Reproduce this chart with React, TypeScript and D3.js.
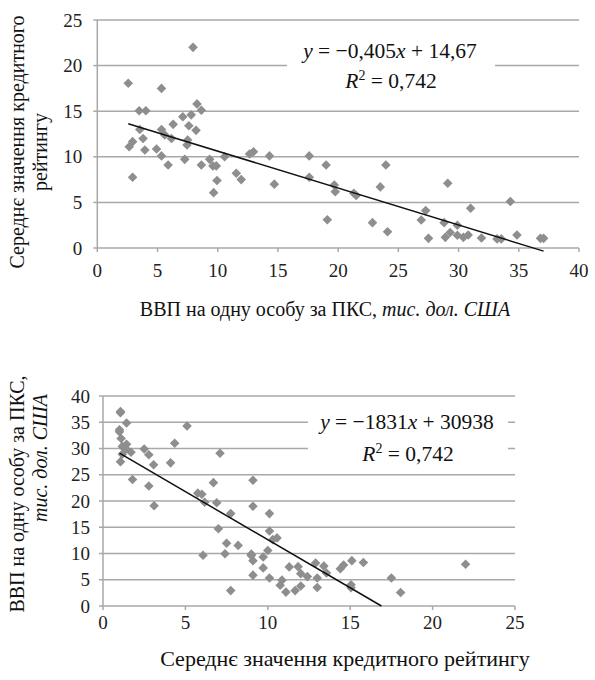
import React from "react";
import * as d3 from "d3";

// GDP per capita (PPP), thousand USD — one value per country
const gdp = [
  7.95, 2.57, 5.33, 3.48, 4.03, 8.28, 8.64, 7.1, 7.8, 7.6,
  8.2, 6.3, 3.53, 5.33, 5.6, 3.8, 6.16, 7.5, 7.45, 2.93,
  2.65, 3.95, 4.92, 5.33, 5.88, 7.26, 8.64, 9.33, 9.6, 9.88,
  9.94, 9.66, 2.93, 10.57, 11.54, 11.95, 12.64, 12.97, 14.3, 14.7,
  17.6, 17.6, 19.0, 19.68, 19.76, 19.1, 21.3, 21.5, 23.96, 23.5,
  22.85, 24.1, 27.27, 26.9, 27.5, 28.8, 28.9, 29.3, 29.9, 29.1,
  29.9, 30.4, 30.8, 31.0, 31.9, 33.2, 33.55, 34.3, 34.85, 36.8,
  37.06,
];

// average credit rating — same countries, same order
const rating = [
  22.0, 18.06, 17.5, 15.05, 15.05, 15.8, 15.1, 14.4, 14.6, 13.4,
  12.9, 13.56, 13.0, 13.0, 12.4, 12.0, 12.0, 11.84, 11.3, 11.66,
  11.1, 10.75, 10.86, 10.1, 9.1, 9.72, 9.1, 9.72, 9.0, 9.0,
  7.4, 6.07, 7.75, 10.0, 8.2, 7.5, 10.3, 10.56, 10.1, 7.0,
  10.1, 7.75, 9.1, 6.9, 6.17, 3.1, 6.0, 5.75, 9.1, 6.7,
  2.78, 1.79, 4.1, 3.07, 1.06, 2.78, 1.17, 1.7, 1.4, 7.1,
  2.5, 1.17, 1.43, 4.35, 1.1, 1.0, 1.0, 5.1, 1.43, 1.06,
  1.06,
];

// linear trend lines (bottom one in thousand USD)
const trendTop = { slope: -0.405, intercept: 14.67 };
const trendBottom = { slope: -1.831, intercept: 30.938 };

const FONT = "'Liberation Serif', 'DejaVu Serif', serif";
const GRID = "#a8a8a8";
const MARK = "#8e8e8e";

type Pt = { x: number; y: number };

function Scatter(props: {
  pts: Pt[];
  xDomain: [number, number];
  yDomain: [number, number];
  xRange: [number, number];
  yRange: [number, number];
  xTickCount: number;
  yTickCount: number;
  trend: { slope: number; intercept: number };
  clampTrend: boolean;
  eq: React.ReactNode;
  box: { x: number; y: number; w: number; h: number };
  yLabelDx: number;
  xLabelY: number;
}) {
  const { pts, xDomain, yDomain, xRange, yRange, trend } = props;
  const x = d3.scaleLinear().domain(xDomain).range(xRange);
  const y = d3.scaleLinear().domain(yDomain).range(yRange);
  const xTicks = x.ticks(props.xTickCount);
  const yTicks = y.ticks(props.yTickCount);
  const left = xRange[0], right = xRange[1];
  const bottom = yRange[0];

  const xs = pts.map(p => p.x);
  const x0 = d3.min(xs) as number;
  let x1 = d3.max(xs) as number;
  if (props.clampTrend) x1 = Math.min(x1, (yDomain[0] - trend.intercept) / trend.slope);
  const line = d3.line<number>()
    .x(d => x(d))
    .y(d => y(trend.slope * d + trend.intercept));

  const diamond = d3.symbol(d3.symbolSquare, 46)() as string;

  return (
    <g fontFamily={FONT}>
      {yTicks.filter(t => t !== yDomain[0]).map(t => (
        <line key={"g" + t} x1={left} x2={right} y1={y(t)} y2={y(t)} stroke={GRID} strokeWidth={1.5} />
      ))}
      <rect x={props.box.x} y={props.box.y} width={props.box.w} height={props.box.h} fill="#fff" />
      {/* axes */}
      <line x1={left} x2={left} y1={y(yDomain[1])} y2={bottom} stroke={GRID} strokeWidth={1.5} />
      <line x1={left} x2={right} y1={bottom} y2={bottom} stroke={GRID} strokeWidth={1.5} />
      {yTicks.map(t => (
        <g key={"y" + t}>
          <line x1={left - 4} x2={left} y1={y(t)} y2={y(t)} stroke={GRID} strokeWidth={1.5} />
          <text x={left - props.yLabelDx} y={y(t)} dy="0.35em" textAnchor="end" fontSize={19} fill="#222">{t}</text>
        </g>
      ))}
      {xTicks.map(t => (
        <g key={"x" + t}>
          <line x1={x(t)} x2={x(t)} y1={bottom} y2={bottom + 4} stroke={GRID} strokeWidth={1.5} />
          <text x={x(t)} y={props.xLabelY} textAnchor="middle" fontSize={19} fill="#222">{t}</text>
        </g>
      ))}
      {pts.map((p, i) => (
        <path key={i} d={diamond} transform={`translate(${x(p.x)},${y(p.y)}) rotate(45)`} fill={MARK} />
      ))}
      <path d={line([x0, x1]) as string} fill="none" stroke="#111" strokeWidth={1.5} />
      {props.eq}
    </g>
  );
}

export default function App() {
  const topPts = gdp.map((g, i) => ({ x: g, y: rating[i] }));
  const bottomPts = gdp.map((g, i) => ({ x: rating[i], y: g }));

  return (
    <svg width={595} height={680} style={{ position: "absolute", left: 0, top: 0 }} fontFamily={FONT}>
      <rect width={595} height={680} fill="#fff" />
      <Scatter
        pts={topPts}
        xDomain={[0, 40]}
        yDomain={[0, 25]}
        xRange={[97.3, 579]}
        yRange={[248, 20]}
        xTickCount={8}
        yTickCount={5}
        trend={trendTop}
        clampTrend={false}
        box={{ x: 287, y: 36, w: 208, h: 64 }}
        yLabelDx={15}
        xLabelY={277}
        eq={
          <g fontSize={21.5} fill="#111" textAnchor="middle">
            <text x={390} y={58}>
              <tspan fontStyle="italic">y</tspan> = −0,405<tspan fontStyle="italic">x</tspan> + 14,67
            </text>
            <text x={391} y={88}>
              <tspan fontStyle="italic">R</tspan><tspan fontSize={14} dy={-8}>2</tspan><tspan dy={8}> = 0,742</tspan>
            </text>
          </g>
        }
      />
      <text transform="translate(24,142) rotate(-90)" textAnchor="middle" fontSize={20} fill="#111">
        Середнє значення кредитного
      </text>
      <text transform="translate(47,152) rotate(-90)" textAnchor="middle" fontSize={20} fill="#111">
        рейтингу
      </text>
      <text x={325} y={316} textAnchor="middle" fontSize={20} fill="#111">
        ВВП на одну особу за ПКС, <tspan fontStyle="italic">тис. дол. США</tspan>
      </text>

      <Scatter
        pts={bottomPts}
        xDomain={[0, 25]}
        yDomain={[0, 40]}
        xRange={[103, 515]}
        yRange={[606, 396]}
        xTickCount={5}
        yTickCount={8}
        trend={trendBottom}
        clampTrend={true}
        box={{ x: 308, y: 405, w: 200, h: 62 }}
        yLabelDx={13}
        xLabelY={629}
        eq={
          <g fontSize={21.5} fill="#111" textAnchor="middle">
            <text x={407} y={429}>
              <tspan fontStyle="italic">y</tspan> = −1831<tspan fontStyle="italic">x</tspan> + 30938
            </text>
            <text x={408} y={461}>
              <tspan fontStyle="italic">R</tspan><tspan fontSize={14} dy={-8}>2</tspan><tspan dy={8}> = 0,742</tspan>
            </text>
          </g>
        }
      />
      <text transform="translate(24,494) rotate(-90)" textAnchor="middle" fontSize={20} fill="#111">
        ВВП на одну особу за ПКС,
      </text>
      <text transform="translate(47,458) rotate(-90)" textAnchor="middle" fontSize={20} fill="#111" fontStyle="italic">
        тис. дол. США
      </text>
      <text x={345} y={666} textAnchor="middle" fontSize={22} fill="#111">
        Середнє значення кредитного рейтингу
      </text>
    </svg>
  );
}
